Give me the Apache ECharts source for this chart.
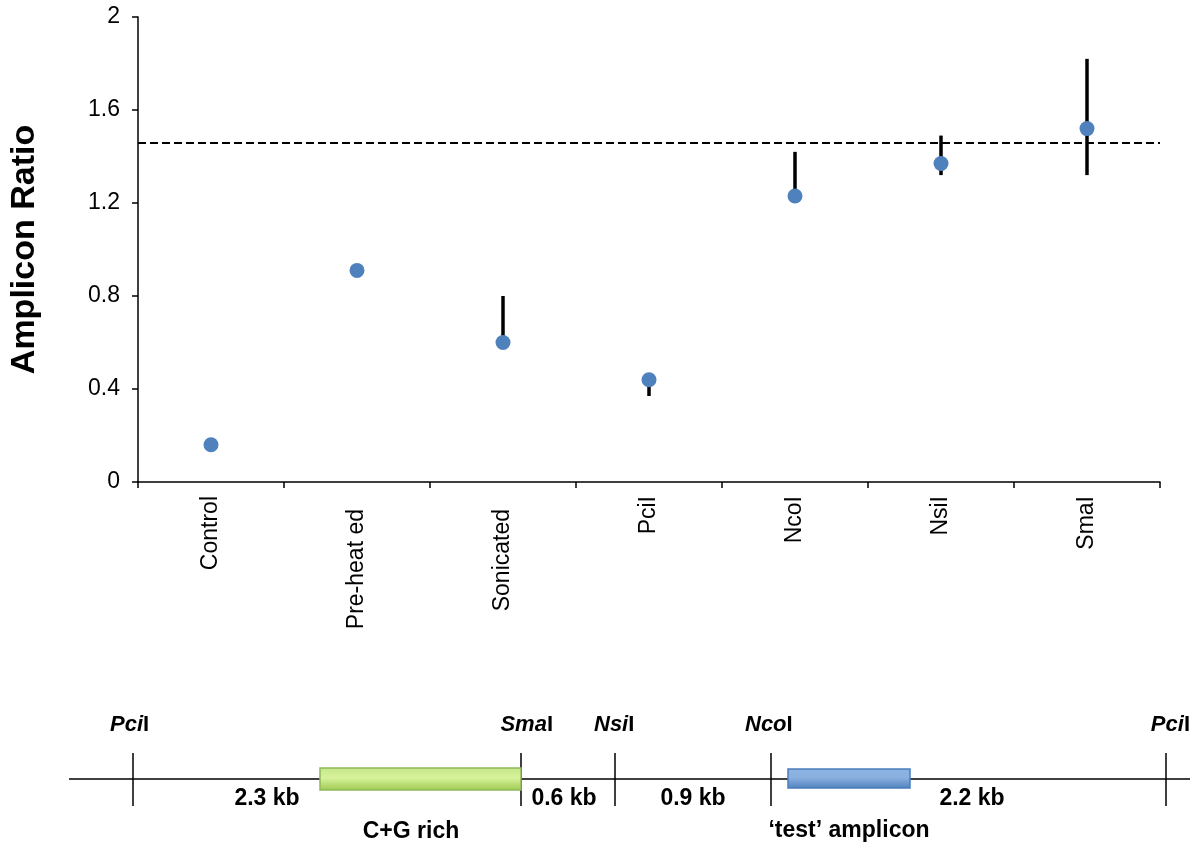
<!DOCTYPE html>
<html>
<head>
<meta charset="utf-8">
<script src="https://cdn.jsdelivr.net/npm/echarts@6/dist/echarts.min.js"></script>
<style>
html,body{margin:0;padding:0;background:#fff;}
#main{width:1200px;height:852px;}
</style>
</head>
<body>
<div id="main"></div>
<script>
const categories = ['Control', 'Pre-heat ed', 'Sonicated', 'PciI', 'NcoI', 'NsiI', 'SmaI'];
const ratios = [0.16, 0.91, 0.60, 0.44, 1.23, 1.37, 1.52];
const errLow = [0.16, 0.91, 0.60, 0.37, 1.23, 1.32, 1.32];
const errHigh = [0.16, 0.91, 0.80, 0.44, 1.42, 1.49, 1.82];
const referenceLine = 1.46;
const yTicks = [0, 0.4, 0.8, 1.2, 1.6, 2];

const chart = echarts.init(document.getElementById('main'));
const FONT = '"Liberation Sans", Arial, sans-serif';

const errData = categories.map((c, i) => [i, errLow[i], errHigh[i]]);
// labels that sit a little further from the axis in the original
const shiftedLabels = {'Pre-heat ed': 13, 'Sonicated': 13};

function siteLabel(name, x, align) {
  return {
    type: 'text',
    x: x, y: 725,
    style: {
      text: '{i|' + name.slice(0, -1) + '}{n|' + name.slice(-1) + '}',
      align: align, verticalAlign: 'middle',
      rich: {
        i: {fontFamily: FONT, fontSize: 22, fontWeight: 'bold', fontStyle: 'italic', fill: '#000'},
        n: {fontFamily: FONT, fontSize: 22, fontWeight: 'bold', fill: '#000'}
      }
    }
  };
}
function plainLabel(text, x, y) {
  return {
    type: 'text', x: x, y: y,
    style: {text: text, align: 'center', verticalAlign: 'middle',
      fontFamily: FONT, fontSize: 23, fontWeight: 'bold', fill: '#000'}
  };
}
function tick(x) {
  return {type: 'line', shape: {x1: x, y1: 753, x2: x, y2: 806}, style: {stroke: '#000', lineWidth: 1.5}};
}

const option = {
  backgroundColor: '#fff',
  animation: false,
  grid: {left: 134, right: 40, top: 17, bottom: 370, containLabel: false},
  xAxis: {
    type: 'category',
    data: categories,
    boundaryGap: true,
    axisLine: {lineStyle: {color: '#000', width: 1.5}},
    axisTick: {show: true, inside: false, length: 6, alignWithLabel: false, lineStyle: {color: '#000', width: 1.5}},
    axisLabel: {
      rotate: 90, margin: 14, fontFamily: FONT, fontSize: 23, color: '#000',
      formatter: v => shiftedLabels[v] ? '{s|' + v + '}' : '{n|' + v + '}',
      rich: {
        n: {fontFamily: FONT, fontSize: 23, color: '#000'},
        s: {fontFamily: FONT, fontSize: 23, color: '#000', padding: [0, 13, 0, 0]}
      }
    },
    splitLine: {show: false}
  },
  yAxis: {
    type: 'value',
    min: 0, max: 2, interval: 0.4,
    name: 'Amplicon Ratio',
    nameLocation: 'middle',
    nameGap: 96,
    nameTextStyle: {fontFamily: FONT, fontSize: 34, fontWeight: 'bold', color: '#000'},
    axisLine: {show: true, lineStyle: {color: '#000', width: 1.5}},
    axisTick: {show: true, inside: false, length: 6, lineStyle: {color: '#000', width: 1.5}},
    axisLabel: {margin: 18, fontFamily: FONT, fontSize: 23, color: '#000',
      formatter: v => { const t = yTicks.find(x => Math.abs(x - v) < 1e-9); return t === undefined ? '' : String(t); }},
    splitLine: {show: false}
  },
  series: [
    {
      type: 'custom',
      data: errData,
      z: 2,
      renderItem: function (params, api) {
        const x = api.value(0);
        const lo = api.coord([x, api.value(1)]);
        const hi = api.coord([x, api.value(2)]);
        return {
          type: 'line',
          shape: {x1: lo[0], y1: lo[1], x2: hi[0], y2: hi[1]},
          style: {stroke: '#000', lineWidth: 3.5}
        };
      },
      silent: true
    },
    {
      type: 'scatter',
      data: ratios,
      symbol: 'circle',
      symbolSize: 15,
      z: 3,
      itemStyle: {color: '#4F81BD', opacity: 1},
      markLine: {
        silent: true,
        symbol: ['none', 'none'],
        label: {show: false},
        lineStyle: {color: '#000', type: [8, 4], width: 2.2},
        data: [{yAxis: referenceLine}]
      }
    }
  ],
  graphic: [
    {type: 'line', shape: {x1: 69, y1: 779, x2: 1190, y2: 779}, style: {stroke: '#000', lineWidth: 1.5}},
    tick(133), tick(521), tick(615), tick(771), tick(1166),
    {type: 'rect', shape: {x: 320, y: 768, width: 201, height: 22},
      style: {stroke: '#8FB85A', lineWidth: 1.5,
        fill: new echarts.graphic.LinearGradient(0, 0, 0, 1, [
          {offset: 0, color: '#C6E58A'}, {offset: 0.45, color: '#D6F39C'}, {offset: 1, color: '#9CC84E'}])}},
    {type: 'rect', shape: {x: 788, y: 769, width: 122, height: 19},
      style: {stroke: '#4A7EBB', lineWidth: 1.5,
        fill: new echarts.graphic.LinearGradient(0, 0, 0, 1, [
          {offset: 0, color: '#8DB3E2'}, {offset: 0.45, color: '#8AB0E0'}, {offset: 1, color: '#4F81BD'}])}},
    siteLabel('PciI', 110, 'left'),
    siteLabel('SmaI', 553, 'right'),
    siteLabel('NsiI', 594, 'left'),
    siteLabel('NcoI', 745, 'left'),
    siteLabel('PciI', 1190, 'right'),
    plainLabel('2.3 kb', 267, 799),
    plainLabel('0.6 kb', 564, 799),
    plainLabel('0.9 kb', 693, 799),
    plainLabel('2.2 kb', 972, 799),
    plainLabel('C+G rich', 411, 832),
    plainLabel('\u2018test\u2019 amplicon', 849, 831)
  ]
};
chart.setOption(option);
</script>
</body>
</html>
